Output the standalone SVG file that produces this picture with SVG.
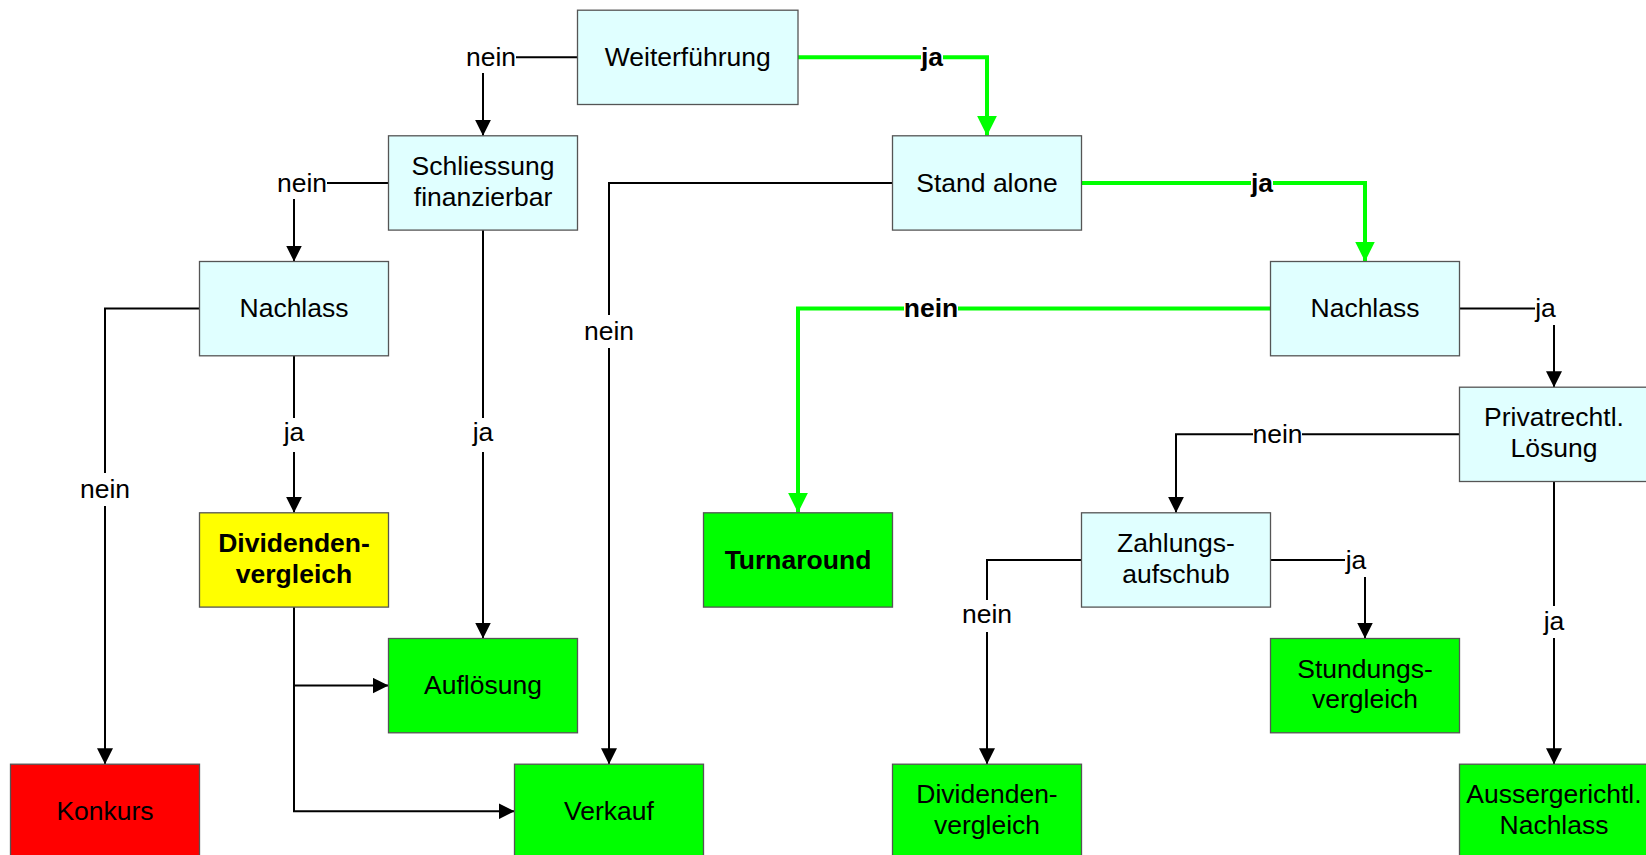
<svg xmlns="http://www.w3.org/2000/svg" width="1646" height="855" viewBox="0 0 1646 855">
<style>
.box{stroke:#555;stroke-width:1.3}
.q{fill:#E0FFFF}
.g{fill:#00FF00}
.y{fill:#FFFF00}
.r{fill:#FF0000}
text{font-family:"Liberation Sans",Arial,sans-serif;font-size:26.5px;fill:#000;text-anchor:middle}
.b{font-weight:bold}
.k{fill:none;stroke:#000;stroke-width:2}
.gl{fill:none;stroke:#00FF00;stroke-width:4}
.bg{fill:#fff}
</style>
<defs>
<marker id="ab" markerUnits="userSpaceOnUse" markerWidth="16" markerHeight="16" refX="16" refY="8" orient="auto"><path d="M0,0 L16,8 L0,16 z" fill="#000"/></marker>
<marker id="ag" markerUnits="userSpaceOnUse" markerWidth="20" markerHeight="20" refX="20" refY="10" orient="auto"><path d="M0,0 L20,10 L0,20 z" fill="#00FF00"/></marker>
</defs>
<rect width="1646" height="855" fill="#fff"/>
<g id="connectors">
<path class="k" d="M577.5,57.3 H483 V135.8" marker-end="url(#ab)"/>
<path class="gl" d="M797.5,57.3 H987 V135.8" marker-end="url(#ag)"/>
<path class="k" d="M388.5,183 H294 V261.5" marker-end="url(#ab)"/>
<path class="gl" d="M1081.5,183 H1365 V261.5" marker-end="url(#ag)"/>
<path class="k" d="M892.5,183 H609 V764.2" marker-end="url(#ab)"/>
<path class="k" d="M483,230.1 V638.5" marker-end="url(#ab)"/>
<path class="k" d="M294,355.8 V512.8" marker-end="url(#ab)"/>
<path class="k" d="M199.5,308.6 H105 V764.2" marker-end="url(#ab)"/>
<path class="k" d="M294,607.1 V811.3 H514.5" marker-end="url(#ab)"/>
<path class="k" d="M294,685.6 H388.5" marker-end="url(#ab)"/>
<path class="gl" d="M1270.5,308.6 H798 V512.8" marker-end="url(#ag)"/>
<path class="k" d="M1459.5,308.6 H1554 V387.2" marker-end="url(#ab)"/>
<path class="k" d="M1459.5,434.3 H1176 V512.8" marker-end="url(#ab)"/>
<path class="k" d="M1554,481.5 V764.2" marker-end="url(#ab)"/>
<path class="k" d="M1081.5,560 H987 V764.2" marker-end="url(#ab)"/>
<path class="k" d="M1270.5,560 H1365 V638.5" marker-end="url(#ab)"/>
<g id="labels">
<rect class="bg" x="466" y="42" width="50" height="31"/><text x="491" y="65.8">nein</text>
<rect class="bg" x="921" y="44" width="22" height="26"/><text class="b" x="932" y="65.8">ja</text>
<rect class="bg" x="277" y="168" width="50" height="31"/><text x="302" y="191.5">nein</text>
<rect class="bg" x="1251" y="170" width="22" height="26"/><text class="b" x="1262" y="191.5">ja</text>
<rect class="bg" x="584" y="315" width="50" height="33"/><text x="609" y="340">nein</text>
<rect class="bg" x="472" y="418" width="22" height="34"/><text x="483" y="441">ja</text>
<rect class="bg" x="283" y="418" width="22" height="34"/><text x="294" y="441">ja</text>
<rect class="bg" x="80" y="473" width="50" height="33"/><text x="105" y="498">nein</text>
<rect class="bg" x="904" y="295" width="54" height="26"/><text class="b" x="931" y="317.1">nein</text>
<rect class="bg" x="1535" y="294" width="22" height="31"/><text x="1545.5" y="317.1">ja</text>
<rect class="bg" x="1253" y="421" width="49" height="26"/><text x="1277.5" y="442.8">nein</text>
<rect class="bg" x="1543" y="606" width="22" height="32"/><text x="1554" y="630">ja</text>
<rect class="bg" x="962" y="600" width="50" height="32"/><text x="987" y="623">nein</text>
<rect class="bg" x="1345" y="545" width="22" height="32"/><text x="1356" y="568.5">ja</text>
</g>
</g>
<g id="n-weiterfuehrung"><rect class="box q" x="577.5" y="10.2" width="220.5" height="94.3"/><text x="687.75" y="65.8">Weiterführung</text></g>
<g id="n-schliessung"><rect class="box q" x="388.5" y="135.8" width="189" height="94.3"/><text x="483" y="175">Schliessung</text><text x="483" y="205.5">finanzierbar</text></g>
<g id="n-standalone"><rect class="box q" x="892.5" y="135.8" width="189" height="94.3"/><text x="987" y="191.5">Stand alone</text></g>
<g id="n-nachlass-l"><rect class="box q" x="199.5" y="261.5" width="189" height="94.3"/><text x="294" y="317.1">Nachlass</text></g>
<g id="n-nachlass-r"><rect class="box q" x="1270.5" y="261.5" width="189" height="94.3"/><text x="1365" y="317.1">Nachlass</text></g>
<g id="n-privatrechtl"><rect class="box q" x="1459.5" y="387.2" width="189" height="94.3"/><text x="1554" y="426.3">Privatrechtl.</text><text x="1554" y="456.8">Lösung</text></g>
<g id="n-dividenden-y"><rect class="box y" x="199.5" y="512.8" width="189" height="94.3"/><text class="b" x="294" y="552">Dividenden-</text><text class="b" x="294" y="582.5">vergleich</text></g>
<g id="n-turnaround"><rect class="box g" x="703.5" y="512.8" width="189" height="94.3"/><text class="b" x="798" y="568.5">Turnaround</text></g>
<g id="n-zahlungsaufschub"><rect class="box q" x="1081.5" y="512.8" width="189" height="94.3"/><text x="1176" y="552">Zahlungs-</text><text x="1176" y="582.5">aufschub</text></g>
<g id="n-aufloesung"><rect class="box g" x="388.5" y="638.5" width="189" height="94.3"/><text x="483" y="694">Auflösung</text></g>
<g id="n-stundung"><rect class="box g" x="1270.5" y="638.5" width="189" height="94.3"/><text x="1365" y="677.6">Stundungs-</text><text x="1365" y="708">vergleich</text></g>
<g id="n-konkurs"><rect class="box r" x="10.5" y="764.2" width="189" height="94.3"/><text x="105" y="819.8">Konkurs</text></g>
<g id="n-verkauf"><rect class="box g" x="514.5" y="764.2" width="189" height="94.3"/><text x="609" y="819.8">Verkauf</text></g>
<g id="n-dividenden-g"><rect class="box g" x="892.5" y="764.2" width="189" height="94.3"/><text x="987" y="803.3">Dividenden-</text><text x="987" y="833.8">vergleich</text></g>
<g id="n-aussergerichtl"><rect class="box g" x="1459.5" y="764.2" width="189" height="94.3"/><text x="1554" y="803.3">Aussergerichtl.</text><text x="1554" y="833.8">Nachlass</text></g>
</svg>
